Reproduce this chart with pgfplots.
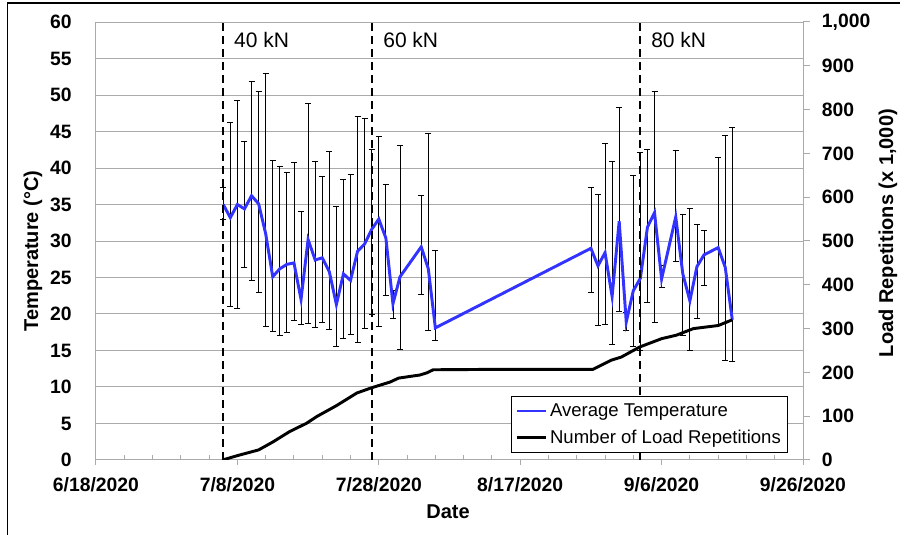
\documentclass[border=0pt]{standalone}
\usepackage{fontspec}
\setmainfont{Liberation Sans}
\usepackage{pgfplots}
\pgfplotsset{compat=1.18}
\usepackage{pgfplotstable}

\pgfplotstableread{
day t top bot
18 35.0 37.3 32.9
19 33.2 46.2 21.0
20 35.0 49.3 20.7
21 34.4 43.7 26.4
22 36.2 51.9 24.6
23 35.1 50.5 22.9
24 31.0 52.9 18.3
25 25.1 41.1 17.6
26 26.2 40.2 17.1
27 26.8 39.4 17.5
28 27.0 40.7 19.1
29 22.0 34.1 18.6
30 30.2 48.9 18.7
31 27.4 40.9 18.1
32 27.7 38.8 18.8
33 25.8 42.3 17.9
34 21.3 34.8 15.6
35 25.5 38.5 16.7
36 24.6 39.1 17.2
37 28.6 47.1 16.1
38 29.6 46.8 18.0
39 31.6 42.5 20.0
40 33.0 44.3 18.3
41 30.4 37.7 22.6
42 21.4 23.3 19.4
43 25.1 43.1 15.2
46 29.2 36.3 22.7
47 26.2 44.8 17.8
48 18.1 28.7 16.4
70 29.0 37.3 22.9
71 26.6 36.4 18.5
72 28.4 43.4 18.6
73 22.4 40.9 15.9
74 32.7 48.3 20.3
75 18.9 20.2 17.7
76 23.2 39.0 15.6
77 24.9 42.1 15.0
78 31.9 42.5 21.6
79 33.9 50.5 18.8
80 24.8 26.6 23.7
82 33.3 42.4 27.2
83 25.5 33.6 17.1
84 21.8 34.4 15.0
85 26.5 32.3 19.4
86 28.1 31.4 23.9
88 29.1 41.5 18.4
89 26.4 44.4 13.6
90 19.2 45.5 13.5
}\temps

\pgfplotstableread{
day load
17.9 0
20 10
23 23
25 41
27.4 65
29.8 84
31.2 99
34 124
36.9 153
39 165
41.6 178
42.8 187
45.8 194
46.8 199
47.7 206
57 207
70.3 207
72.9 228
74.3 235
76.9 258
80 277
82.1 285
84.5 300
88 307
90 320
}\loads

\definecolor{tblue}{RGB}{51,51,255}
\definecolor{axgray}{RGB}{170,170,170}
\definecolor{gridgray}{RGB}{170,170,170}

\begin{document}
\begin{tikzpicture}[x=1pt,y=1pt]
\path[use as bounding box] (-72,-56.25) rectangle (606,345);
\draw[line width=1pt] (-66.4,-56.25) -- (-66.4,342.75) -- (603,342.75);

\begin{axis}[
  at={(0,0)}, anchor=south west, scale only axis,
  width=530.25pt, height=328.5pt,
  xmin=0, xmax=100, ymin=0, ymax=60,
  xtick={0,20,...,100},
  xticklabels={6/18/2020,7/8/2020,7/28/2020,8/17/2020,9/6/2020,9/26/2020},
  minor x tick num=4,
  ytick={0,5,...,60},
  xtick pos=bottom, ytick pos=left,
  tick align=outside,
  major tick length=3.75pt, minor tick length=3.75pt,
  x tick style={axgray, line width=0.75pt},
  minor x tick style={yshift=3.75pt},
  y tick style={draw=none},
  ymajorgrids, major grid style={gridgray, line width=0.75pt},
  axis line style={axgray, line width=0.75pt},
  tick label style={font=\bfseries\fontsize{14.5}{16}\selectfont},
  /pgf/number format/assume math mode=true,
  yticklabel style={inner sep=0pt, xshift=-14.25pt},
  xticklabel style={inner sep=0pt, yshift=-9pt},
  xlabel={Date}, ylabel={Temperature (°C)},
  every axis x label/.style={at={(axis description cs:0.498,-0.1187)}, anchor=center, font=\bfseries\fontsize{15}{17}\selectfont},
  every axis y label/.style={at={(axis description cs:-0.0891,0.477)}, rotate=90, anchor=center, font=\bfseries\fontsize{15}{17}\selectfont},
]
\addplot[draw=none, forget plot, error bars/.cd, y dir=both, y explicit,
  error bar style={draw=black, line width=0.6pt, solid},
  error mark options={draw=black, rotate=90, mark size=2.25pt, line width=0.6pt}]
  table[x=day, y=t, y error plus expr=\thisrow{top}-\thisrow{t}, y error minus expr=\thisrow{t}-\thisrow{bot}] {\temps};
\addplot[tblue, line width=2.2pt, mark=none] table[x=day, y=t] {\temps};
\addplot[black, line width=1.5pt, dash pattern=on 6pt off 3.75pt] coordinates {(17.9,0) (17.9,60)};
\addplot[black, line width=1.5pt, dash pattern=on 6pt off 3.75pt] coordinates {(39,0) (39,60)};
\addplot[black, line width=1.5pt, dash pattern=on 6pt off 3.75pt] coordinates {(76.9,0) (76.9,60)};
\node[anchor=west, inner sep=0pt, font=\fontsize{15.75}{18}\selectfont, xshift=8.5pt] at (axis cs:17.9,57.6) {40 kN};
\node[anchor=west, inner sep=0pt, font=\fontsize{15.75}{18}\selectfont, xshift=8.5pt] at (axis cs:39,57.6) {60 kN};
\node[anchor=west, inner sep=0pt, font=\fontsize{15.75}{18}\selectfont, xshift=8.5pt] at (axis cs:76.9,57.6) {80 kN};
\end{axis}

\begin{axis}[
  at={(0,0)}, anchor=south west, scale only axis,
  width=530.25pt, height=328.5pt,
  xmin=0, xmax=100, ymin=0, ymax=1000,
  axis x line=none, axis y line*=right,
  ytick={0,100,...,1000},
  tick align=outside, major tick length=5pt,
  y tick style={axgray, line width=0.75pt},
  axis line style={axgray, line width=0.75pt},
  tick label style={font=\bfseries\fontsize{14.5}{16}\selectfont},
  /pgf/number format/assume math mode=true,
  /pgf/number format/1000 sep={,},
  yticklabel style={inner sep=0pt, xshift=9pt},
  ylabel={Load Repetitions (x 1,000)},
  every axis y label/.style={at={(axis description cs:1.1202,0.518)}, rotate=90, anchor=center, font=\bfseries\fontsize{15}{17}\selectfont},
  legend style={at={(0.9788,0.016)}, anchor=south east, draw=black, line width=0.75pt,
    font=\fontsize{13.9}{16}\selectfont, fill=white, inner xsep=3pt, inner ysep=3.5pt, row sep=4.5pt},
  legend cell align=left,
  legend image code/.code={\draw[#1] (0pt,0pt) -- (21.75pt,0pt);},
]
\addlegendimage{tblue, line width=2.2pt}
\addlegendentry{Average Temperature}
\addplot[black, line width=2.2pt, mark=none] table[x=day, y=load] {\loads};
\addlegendentry{Number of Load Repetitions}
\end{axis}
\end{tikzpicture}
\end{document}
